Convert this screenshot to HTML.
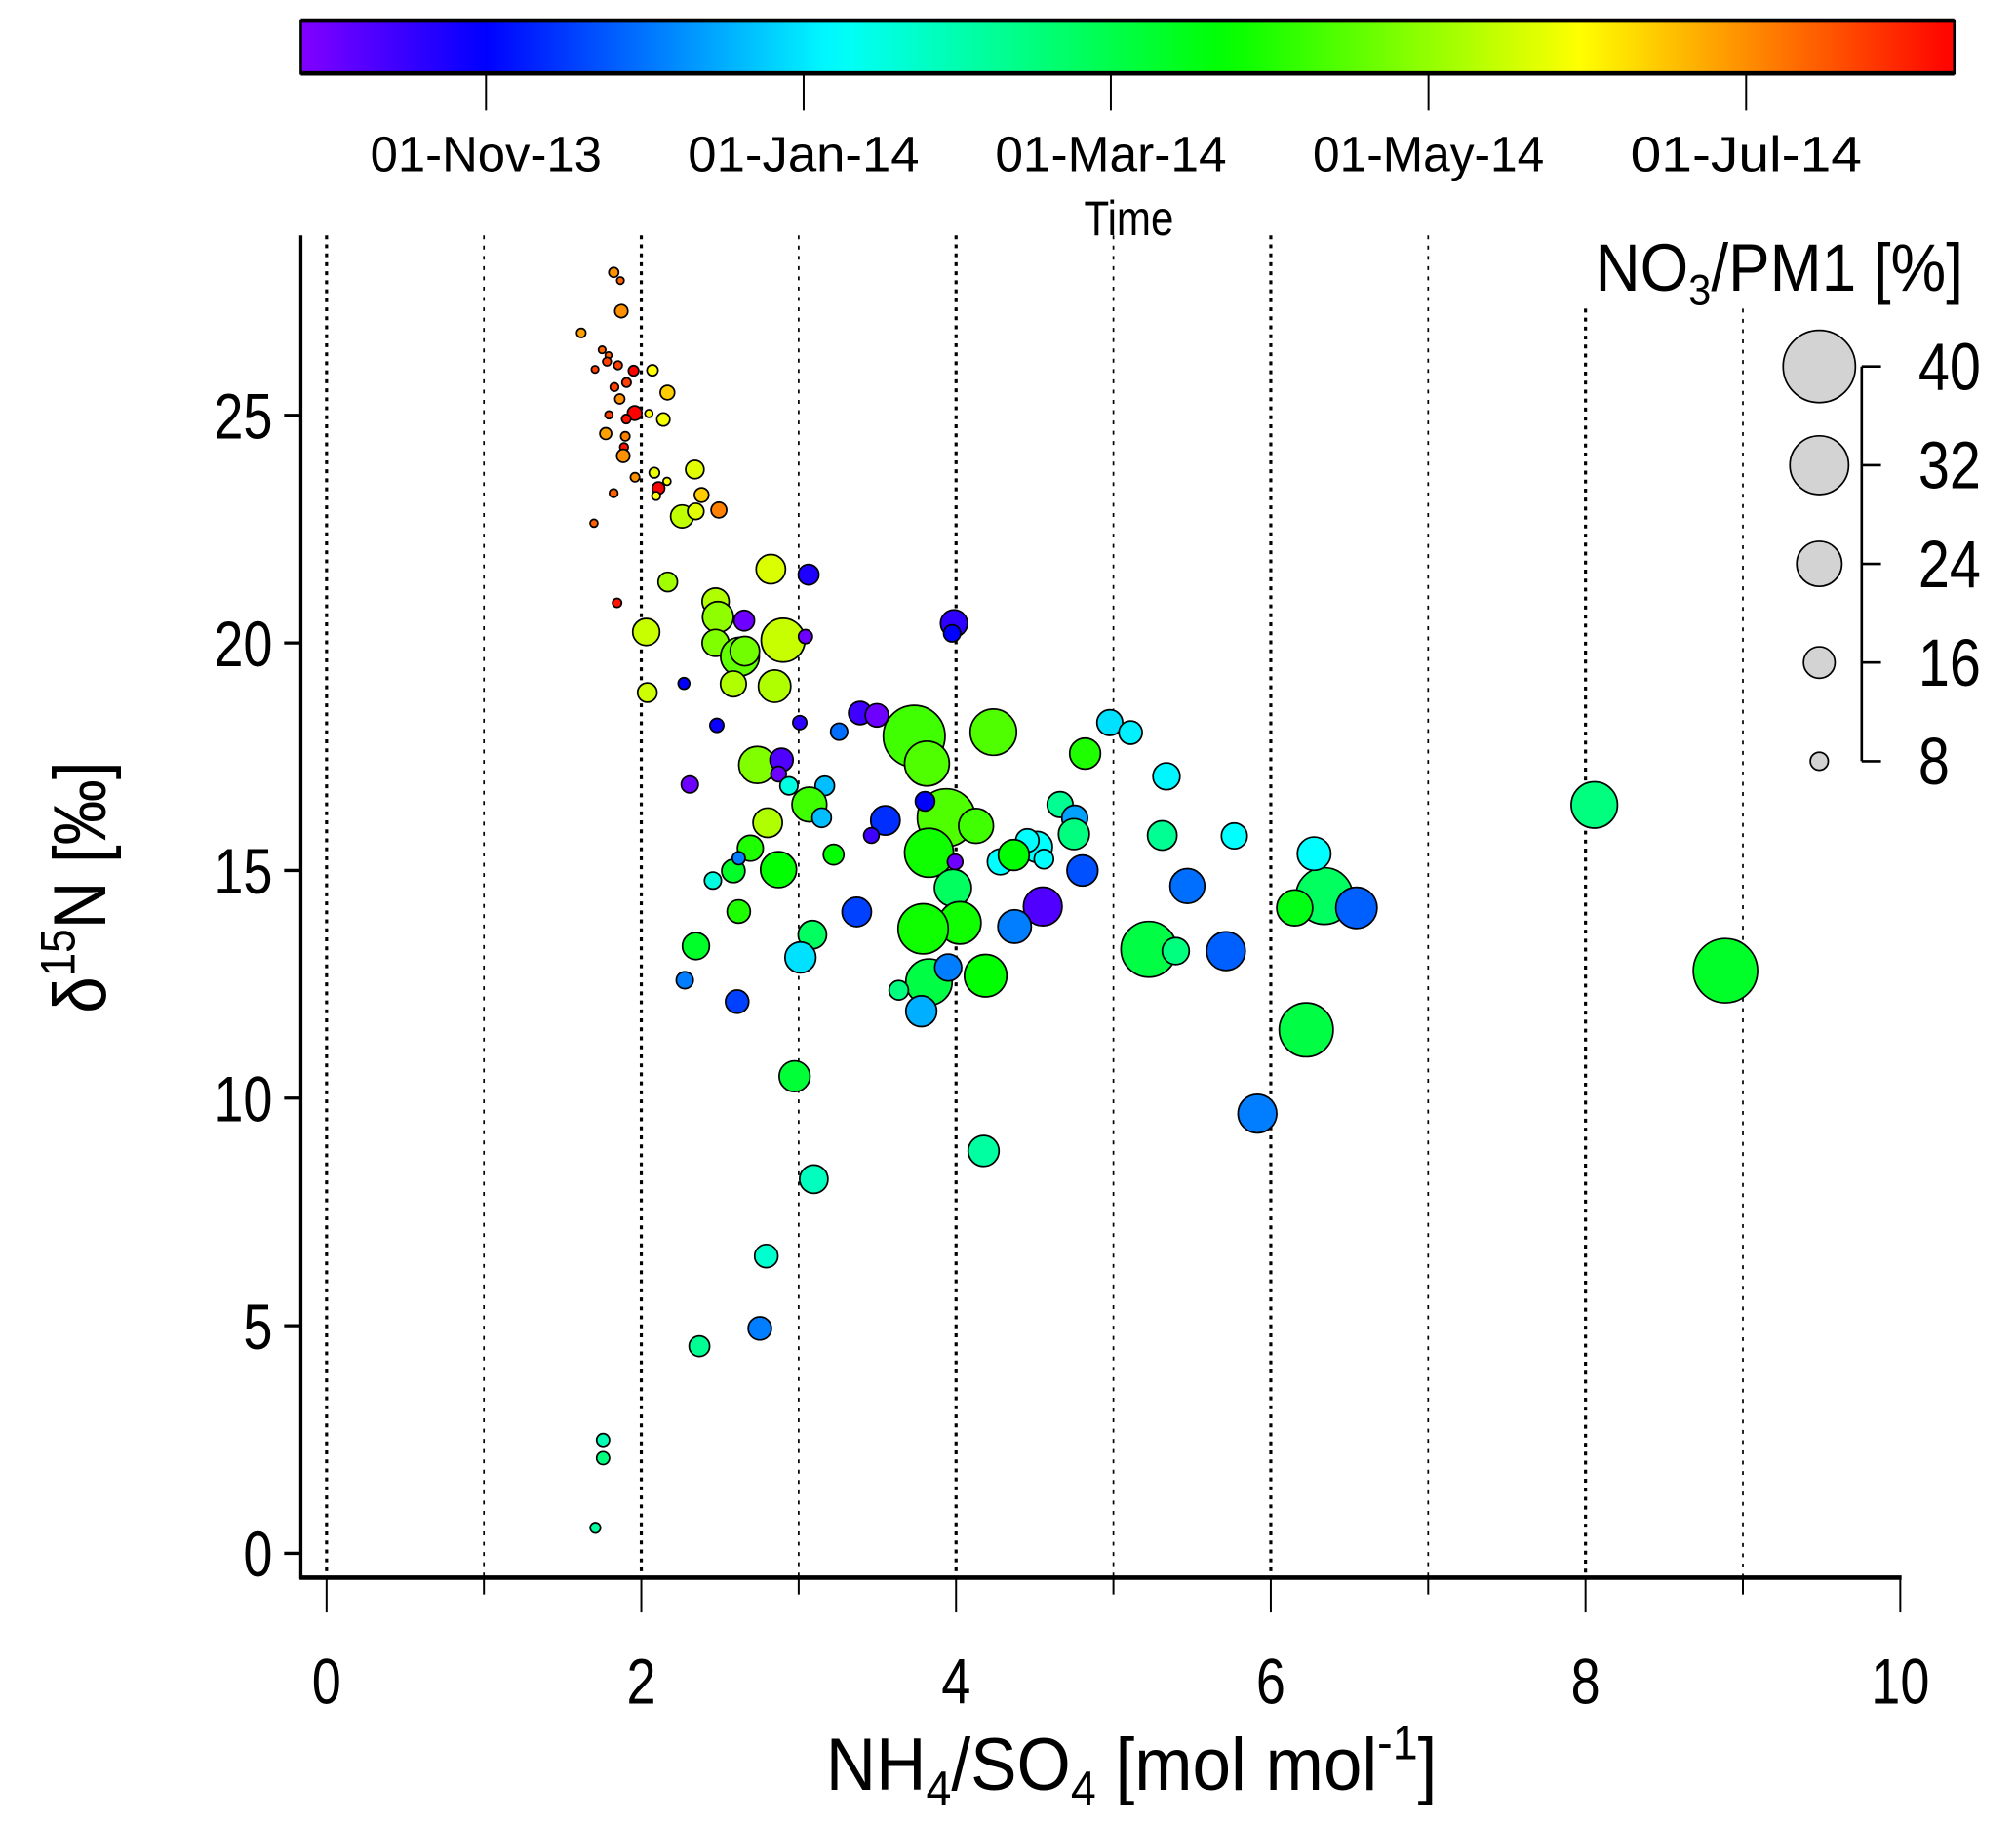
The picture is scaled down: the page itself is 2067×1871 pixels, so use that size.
<!DOCTYPE html>
<html><head><meta charset="utf-8"><style>
html,body{margin:0;padding:0;background:#fff;}
svg{display:block;}
text{font-family:"Liberation Sans",Arial,sans-serif;fill:#000;}
</style></head><body>
<svg id="chart" xmlns="http://www.w3.org/2000/svg" width="2067" height="1871" viewBox="0 0 1568 1419.3">
<defs><linearGradient id="cbgrad" x1="0" x2="1" y1="0" y2="0"></linearGradient></defs>
<g id="grid"></g>
<g id="axes"></g>
<g id="points"></g>
<g id="cbar"></g>
<g id="legend"></g>
<text transform="translate(880,1392) scale(0.93,1)" font-size="58" text-anchor="middle">NH<tspan font-size="38" dy="12">4</tspan><tspan dy="-12">/SO</tspan><tspan font-size="38" dy="12">4</tspan><tspan dy="-12"> [mol mol</tspan><tspan font-size="38" dy="-24">-1</tspan><tspan dy="24">]</tspan></text>
<text transform="translate(82,690) rotate(-90) scale(0.88,1)" font-size="58" text-anchor="middle">δ<tspan font-size="38" dy="-24">15</tspan><tspan dy="24">N [‰]</tspan></text>
<text transform="translate(878,183) scale(0.84,1)" font-size="38" text-anchor="middle">Time</text>
<text transform="translate(1527,226) scale(0.93,1)" font-size="52" text-anchor="end">NO<tspan font-size="34" dy="11">3</tspan><tspan dy="-11">/PM1 [%]</tspan></text>
</svg>
<script>
// ---- data ----
const ratioX = [1.825,1.867,1.873,1.618,1.751,1.792,1.782,1.852,1.706,1.951,2.071,1.906,1.829,2.166,1.863,1.958,1.904,1.794,2.048,2.140,1.774,1.898,1.890,1.885,1.960,2.083,2.163,2.109,2.094,2.340,2.383,2.259,2.346,2.493,1.824,1.699,1.846,
2.823,3.063,2.168,2.472,2.487,2.654,2.031,2.901,3.043,2.472,2.627,2.658,2.585,2.847,2.038,2.271,3.987,3.975,2.480,3.007,3.257,3.391,3.497,3.734,3.815,4.237,4.977,5.109,4.820,2.737,2.891,2.872,2.308,2.938,3.166,3.068,3.146,5.337,3.551,3.462,3.938,4.127,3.828,3.994,3.803,4.661,4.754,4.749,4.514,4.453,4.558,4.281,4.367,5.310,4.803,5.470,4.551,4.372,3.980,4.024,3.791,4.188,3.828,3.950,3.636,3.779,5.225,5.396,5.715,2.347,2.276,2.609,2.619,2.455,2.585,2.693,2.872,2.803,2.619,3.222,3.369,3.087,3.011,2.974,3.096,2.794,2.753,2.369,1.757,1.757,1.708,4.175,5.915,6.225,6.340,6.275,6.152,6.544,5.768,8.056,8.889];
const delta15N = [28.14,27.96,27.29,26.81,26.44,26.32,26.18,26.10,26.01,25.98,25.99,25.72,25.62,25.50,25.36,25.05,24.92,25.01,25.04,24.91,24.60,24.54,24.30,24.11,23.64,23.74,23.55,23.40,23.23,23.81,23.25,22.78,22.89,22.92,23.29,22.63,20.88,
21.62,21.50,21.34,20.91,20.57,20.49,20.24,20.06,20.14,20.00,19.70,19.82,19.10,19.05,18.91,19.11,20.43,20.21,18.19,18.25,18.05,18.46,18.41,17.95,17.35,18.04,18.25,18.03,17.57,17.32,17.43,17.12,16.89,16.86,16.86,16.45,16.16,17.07,16.10,15.77,16.16,15.98,15.39,15.19,16.52,16.45,16.15,15.80,15.52,15.66,15.25,15.19,15.34,15.77,15.00,14.66,14.21,13.77,14.62,13.85,13.72,12.69,12.55,12.87,12.37,11.91,13.27,13.23,13.23,13.34,12.59,12.12,14.10,14.78,14.99,15.49,15.02,16.05,15.27,15.35,14.09,13.59,13.09,10.48,8.22,6.53,4.94,4.55,2.49,2.09,0.56,8.84,9.66,11.50,14.44,15.37,14.18,14.18,15.76,16.44,12.80];
const no3Pct = [3.2,1.7,5.1,2.8,1.7,1.3,2.4,2.4,1.7,3.5,3.9,2.8,2.4,5.9,3.2,5.9,2.8,2.0,2.0,5.1,4.3,2.8,2.4,5.1,2.8,3.5,2.0,4.7,2.4,8.2,5.9,10.9,7.0,6.6,2.4,2.0,2.7,
14.7,9.5,8.8,13.3,15.6,9.5,13.3,23.2,5.6,13.3,20.2,14.7,12.6,16.5,8.8,4.2,13.3,7.4,5.6,5.6,7.4,11.1,11.1,33.8,23.8,24.7,12.6,11.1,15.6,19.2,11.1,6.5,7.4,8.0,8.8,17.9,8.8,13.3,14.7,6.5,31.5,17.9,26.2,6.5,8.8,12.6,12.6,15.6,15.6,11.1,8.8,12.6,15.6,14.7,15.6,17.9,20.2,17.1,19.2,22.4,27.0,22.4,24.7,13.3,8.8,15.6,30.2,13.3,20.2,13.3,7.4,11.1,11.1,7.4,11.1,12.6,18.6,14.7,5.0,9.5,14.7,14.1,15.6,15.6,14.1,11.1,11.1,9.5,5.0,5.0,3.5,15.6,20.2,29.2,30.8,17.1,18.6,21.7,12.6,24.7,35.3];
// days since 01-Nov-13
const sampleDay = [241,255,241,237,255,255,264,264,264,282,210,264,264,224,241,282,277,264,210,207,237,246,277,241,241,204,210,282,210,202,224,193,202,246,255,255,277,
200,-8,185,189,180,-30,195,195,-30,176,168,172,189,189,197,0,-13,0,-3,-13,29,-17,-30,159,163,163,59,63,150,176,-22,-30,-30,76,50,159,50,65,12,-17,163,159,146,-30,0,99,42,105,67,67,67,67,142,99,21,29,-22,33,114,146,146,142,122,33,105,46,122,105,25,130,33,17,150,76,130,150,142,189,33,142,17,114,59,126,86,81,33,99,89,105,95,95,33,122,114,67,136,25,67,105,130];
const xTicks = [0,2,4,6,8,10];
const yTicks = [0,5,10,15,20,25];
const sizeLegendVals = [40,32,24,16,8];
const timeTickDays = [0,61,120,181,242];
const timeTickLabels = ["01-Nov-13","01-Jan-14","01-Mar-14","01-May-14","01-Jul-14"];

// ---- scales ----
const sx = v => 254 + v*122.4;
const sy = v => 1208 - v*35.4;
const sr = v => 1.7 + v*0.66;
const cbx = d => 378 + d*4.05;
const cstops = [[-35,[128,0,255]],[0,[0,0,255]],[67,[0,255,255]],[142,[0,255,0]],[210,[255,255,0]],[282,[255,0,0]]];
function col(d){
  if(d<=cstops[0][0]) return 'rgb('+cstops[0][1]+')';
  for(let i=1;i<cstops.length;i++){
    if(d<=cstops[i][0]){const a=cstops[i-1],b=cstops[i],t=(d-a[0])/(b[0]-a[0]);
      return 'rgb('+a[1].map((c,k)=>Math.round(c+(b[1][k]-c)*t)).join(',')+')';}
  }
  return 'rgb(255,0,0)';
}
const NS='http://www.w3.org/2000/svg';
function mk(tag,attrs,parent){const e=document.createElementNS(NS,tag);for(const k in attrs)e.setAttribute(k,attrs[k]);parent.appendChild(e);return e;}

// grid
const grid=document.getElementById('grid');
for(let i=0;i<=9;i++){
  const g=mk('line',{x1:sx(i),x2:sx(i),y1:(i>=8?240:183),y2:1226,stroke:'#000','stroke-width':(i%2===0?2.4:1.3),'stroke-dasharray':(i%2===0?'3,4':'3,5')},grid);
  
  
}
// axes
const ax=document.getElementById('axes');
const yl=mk('line',{x1:234,x2:234,y1:183,y2:1228,stroke:'#000','stroke-width':2.5},ax);


const xl=mk('line',{x1:233,x2:1479,y1:1227,y2:1227,stroke:'#000','stroke-width':3.5},ax);


for(let i=0;i<=10;i++){
  const t=mk('line',{x1:sx(i),x2:sx(i),y1:1227,y2:(i%2===0?1254:1240),stroke:'#000','stroke-width':1.5},ax);
  
  
}
xTicks.forEach(v=>{
  const t=mk('text',{transform:'translate('+sx(v)+',1325) scale(0.82,1)','font-size':50,'text-anchor':'middle'},ax);t.textContent=v;
  
  
});
yTicks.forEach(v=>{
  const t=mk('line',{x1:221,x2:234,y1:sy(v),y2:sy(v),stroke:'#000','stroke-width':2.5},ax);
  
  
  const l=mk('text',{transform:'translate(212,'+(sy(v)+18)+') scale(0.82,1)','font-size':50,'text-anchor':'end'},ax);l.textContent=v;
  
  
});
// points
const pts=document.getElementById('points');
ratioX.forEach((x,i)=>{
  const c=mk('circle',{cx:sx(x),cy:sy(delta15N[i]),r:sr(no3Pct[i]),fill:col(sampleDay[i]),stroke:'#000','stroke-width':1.3},pts);
  
  
});
// colorbar
const grad=document.getElementById('cbgrad');
for(let d=-35;d<=282;d+=5){mk('stop',{offset:((cbx(d)-234)/1286).toFixed(4),'stop-color':col(d)},grad);}
const cb=document.getElementById('cbar');
const cr=mk('rect',{x:234,y:16,width:1286,height:41,fill:'url(#cbgrad)',stroke:'#000','stroke-width':2},cb);


const cl1=mk('line',{x1:234,x2:1520,y1:16,y2:16,stroke:'#000','stroke-width':3.5},cb);


const cl2=mk('line',{x1:234,x2:1520,y1:57,y2:57,stroke:'#000','stroke-width':3.5},cb);


timeTickDays.forEach((d,i)=>{
  const t=mk('line',{x1:cbx(d),x2:cbx(d),y1:57,y2:86,stroke:'#000','stroke-width':1.5},cb);
  
  
  const l=mk('text',{x:cbx(d),y:133,'font-size':39,'text-anchor':'middle',textLength:180,lengthAdjust:'spacingAndGlyphs'},cb);l.textContent=timeTickLabels[i];
  
  
});
// size legend
const lg=document.getElementById('legend');
const legY=v=>592-(v-8)*(307/32);
const bl=mk('line',{x1:1448,x2:1448,y1:legY(40),y2:legY(8),stroke:'#000','stroke-width':2},lg);


sizeLegendVals.forEach(v=>{
  const c=mk('circle',{cx:1415,cy:legY(v),r:sr(v),fill:'#d3d3d3',stroke:'#000','stroke-width':1.3},lg);
  
  
  const t=mk('line',{x1:1448,x2:1463,y1:legY(v),y2:legY(v),stroke:'#000','stroke-width':2},lg);
  
  
  const l=mk('text',{transform:'translate(1492,'+(legY(v)+18)+') scale(0.84,1)','font-size':52},lg);l.textContent=v;
  
  
});
</script>
</body></html>
